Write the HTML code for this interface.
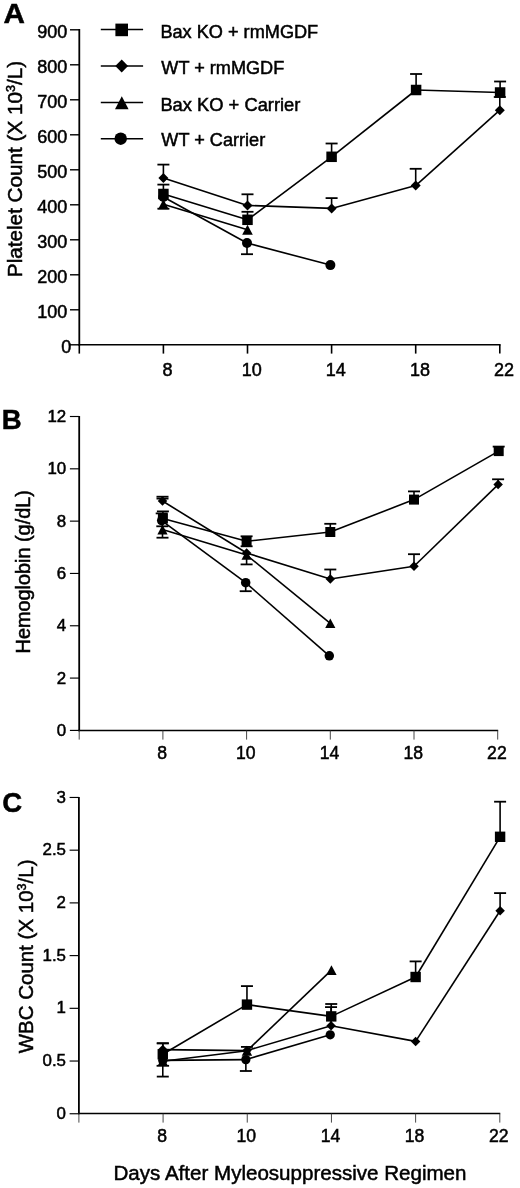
<!DOCTYPE html>
<html><head><meta charset="utf-8"><title>Figure</title>
<style>html,body{margin:0;padding:0;background:#fff;}svg{display:block;position:absolute;left:0;top:0;will-change:transform;-webkit-font-smoothing:antialiased;}</style></head>
<body><svg width="520" height="1188" viewBox="0 0 520 1188">
<rect width="520" height="1188" fill="#fff"/>
<line x1="79.3" y1="29.100000000000012" x2="79.3" y2="345.55" stroke="#000" stroke-width="1.8"/>
<line x1="78.39999999999999" y1="344.8" x2="500.6" y2="344.8" stroke="#000" stroke-width="1.5"/>
<line x1="70.0" y1="344.8" x2="79.3" y2="344.8" stroke="#000" stroke-width="1.4"/>
<text x="71.2" y="352.944" font-size="18" text-anchor="end" font-weight="normal" font-family="Liberation Sans, sans-serif" stroke="#000" stroke-width="0.5">0</text>
<line x1="70.0" y1="309.8" x2="79.3" y2="309.8" stroke="#000" stroke-width="1.4"/>
<text x="67.2" y="317.944" font-size="18" text-anchor="end" font-weight="normal" font-family="Liberation Sans, sans-serif" stroke="#000" stroke-width="0.5">100</text>
<line x1="70.0" y1="274.8" x2="79.3" y2="274.8" stroke="#000" stroke-width="1.4"/>
<text x="67.2" y="282.944" font-size="18" text-anchor="end" font-weight="normal" font-family="Liberation Sans, sans-serif" stroke="#000" stroke-width="0.5">200</text>
<line x1="70.0" y1="239.8" x2="79.3" y2="239.8" stroke="#000" stroke-width="1.4"/>
<text x="67.2" y="247.944" font-size="18" text-anchor="end" font-weight="normal" font-family="Liberation Sans, sans-serif" stroke="#000" stroke-width="0.5">300</text>
<line x1="70.0" y1="204.8" x2="79.3" y2="204.8" stroke="#000" stroke-width="1.4"/>
<text x="67.2" y="212.944" font-size="18" text-anchor="end" font-weight="normal" font-family="Liberation Sans, sans-serif" stroke="#000" stroke-width="0.5">400</text>
<line x1="70.0" y1="169.8" x2="79.3" y2="169.8" stroke="#000" stroke-width="1.4"/>
<text x="67.2" y="177.944" font-size="18" text-anchor="end" font-weight="normal" font-family="Liberation Sans, sans-serif" stroke="#000" stroke-width="0.5">500</text>
<line x1="70.0" y1="134.8" x2="79.3" y2="134.8" stroke="#000" stroke-width="1.4"/>
<text x="67.2" y="142.944" font-size="18" text-anchor="end" font-weight="normal" font-family="Liberation Sans, sans-serif" stroke="#000" stroke-width="0.5">600</text>
<line x1="70.0" y1="99.80000000000004" x2="79.3" y2="99.80000000000004" stroke="#000" stroke-width="1.4"/>
<text x="67.2" y="107.94400000000005" font-size="18" text-anchor="end" font-weight="normal" font-family="Liberation Sans, sans-serif" stroke="#000" stroke-width="0.5">700</text>
<line x1="70.0" y1="64.80000000000001" x2="79.3" y2="64.80000000000001" stroke="#000" stroke-width="1.4"/>
<text x="67.2" y="72.94400000000002" font-size="18" text-anchor="end" font-weight="normal" font-family="Liberation Sans, sans-serif" stroke="#000" stroke-width="0.5">800</text>
<line x1="70.0" y1="29.80000000000001" x2="79.3" y2="29.80000000000001" stroke="#000" stroke-width="1.4"/>
<text x="67.2" y="37.94400000000002" font-size="18" text-anchor="end" font-weight="normal" font-family="Liberation Sans, sans-serif" stroke="#000" stroke-width="0.5">900</text>
<line x1="79.3" y1="344.8" x2="79.3" y2="353.6" stroke="#000" stroke-width="1.6"/>
<line x1="163.39999999999998" y1="344.8" x2="163.39999999999998" y2="353.6" stroke="#000" stroke-width="1.6"/>
<text x="167.59999999999997" y="375.8" font-size="18" text-anchor="middle" font-weight="normal" font-family="Liberation Sans, sans-serif" stroke="#000" stroke-width="0.5">8</text>
<line x1="247.5" y1="344.8" x2="247.5" y2="353.6" stroke="#000" stroke-width="1.6"/>
<text x="251.7" y="375.8" font-size="18" text-anchor="middle" font-weight="normal" font-family="Liberation Sans, sans-serif" stroke="#000" stroke-width="0.5">10</text>
<line x1="331.59999999999997" y1="344.8" x2="331.59999999999997" y2="353.6" stroke="#000" stroke-width="1.6"/>
<text x="335.79999999999995" y="375.8" font-size="18" text-anchor="middle" font-weight="normal" font-family="Liberation Sans, sans-serif" stroke="#000" stroke-width="0.5">14</text>
<line x1="415.7" y1="344.8" x2="415.7" y2="353.6" stroke="#000" stroke-width="1.6"/>
<text x="419.9" y="375.8" font-size="18" text-anchor="middle" font-weight="normal" font-family="Liberation Sans, sans-serif" stroke="#000" stroke-width="0.5">18</text>
<line x1="499.8" y1="344.8" x2="499.8" y2="353.6" stroke="#000" stroke-width="1.6"/>
<text x="504.0" y="375.8" font-size="18" text-anchor="middle" font-weight="normal" font-family="Liberation Sans, sans-serif" stroke="#000" stroke-width="0.5">22</text>
<text x="3.4" y="22.8" font-size="28" text-anchor="start" font-weight="bold" font-family="Liberation Sans, sans-serif" textLength="21.4" lengthAdjust="spacingAndGlyphs" stroke="#000" stroke-width="0.5">A</text>
<line x1="100.8" y1="29.6" x2="143.1" y2="29.6" stroke="#000" stroke-width="1.5"/>
<rect x="115.4" y="23.6" width="12.6" height="12.6" fill="#000"/>
<text x="160.4" y="37.9" font-size="18" text-anchor="start" font-weight="normal" font-family="Liberation Sans, sans-serif" textLength="157.8" lengthAdjust="spacingAndGlyphs" stroke="#000" stroke-width="0.5">Bax KO + rmMGDF</text>
<line x1="100.8" y1="66" x2="143.1" y2="66" stroke="#000" stroke-width="1.5"/>
<polygon points="121.7,59.6 128.1,66 121.7,72.4 115.3,66" fill="#000"/>
<text x="161.3" y="73.9" font-size="18" text-anchor="start" font-weight="normal" font-family="Liberation Sans, sans-serif" textLength="122.9" lengthAdjust="spacingAndGlyphs" stroke="#000" stroke-width="0.5">WT + rmMGDF</text>
<line x1="100.8" y1="102.5" x2="143.1" y2="102.5" stroke="#000" stroke-width="1.5"/>
<polygon points="121.8,96.2 128.60000000000002,109.2 115.0,109.2" fill="#000"/>
<text x="160.4" y="111.0" font-size="18" text-anchor="start" font-weight="normal" font-family="Liberation Sans, sans-serif" textLength="140.0" lengthAdjust="spacingAndGlyphs" stroke="#000" stroke-width="0.5">Bax KO + Carrier</text>
<line x1="100.8" y1="138.7" x2="143.1" y2="138.7" stroke="#000" stroke-width="1.5"/>
<circle cx="120.7" cy="138.7" r="6.25" fill="#000"/>
<text x="161.3" y="145.7" font-size="18" text-anchor="start" font-weight="normal" font-family="Liberation Sans, sans-serif" textLength="103.9" lengthAdjust="spacingAndGlyphs" stroke="#000" stroke-width="0.5">WT + Carrier</text>
<text transform="translate(22,169) rotate(-90)" stroke="#000" stroke-width="0.5" font-size="20.7" text-anchor="middle" font-family="Liberation Sans, sans-serif">Platelet Count (X 10<tspan font-size="12.5" dy="-7">3</tspan><tspan dy="7">/L)</tspan></text>
<line x1="163.39999999999998" y1="197" x2="247.0" y2="243" stroke="#000" stroke-width="1.6"/>
<line x1="247.0" y1="243" x2="330.4" y2="265.1" stroke="#000" stroke-width="1.6"/>
<line x1="247.0" y1="243" x2="247.0" y2="254.2" stroke="#000" stroke-width="1.6"/>
<line x1="241.0" y1="254.2" x2="253.0" y2="254.2" stroke="#000" stroke-width="1.8"/>
<circle cx="163.39999999999998" cy="197" r="5.0" fill="#000"/>
<circle cx="247.0" cy="243" r="5.0" fill="#000"/>
<circle cx="330.4" cy="265.1" r="5.0" fill="#000"/>
<line x1="163.39999999999998" y1="204.2" x2="247.5" y2="229.8" stroke="#000" stroke-width="1.6"/>
<line x1="163.39999999999998" y1="204.2" x2="163.39999999999998" y2="208.7" stroke="#000" stroke-width="1.6"/>
<line x1="157.39999999999998" y1="208.7" x2="169.39999999999998" y2="208.7" stroke="#000" stroke-width="1.8"/>
<polygon points="163.39999999999998,199.2 168.7,209.2 158.09999999999997,209.2" fill="#000"/>
<polygon points="247.5,224.8 252.8,234.8 242.2,234.8" fill="#000"/>
<line x1="163.39999999999998" y1="178" x2="247.5" y2="205.4" stroke="#000" stroke-width="1.6"/>
<line x1="247.5" y1="205.4" x2="331.59999999999997" y2="208.4" stroke="#000" stroke-width="1.6"/>
<line x1="331.59999999999997" y1="208.4" x2="415.7" y2="185.6" stroke="#000" stroke-width="1.6"/>
<line x1="415.7" y1="185.6" x2="499.8" y2="110.2" stroke="#000" stroke-width="1.6"/>
<line x1="163.39999999999998" y1="178" x2="163.39999999999998" y2="164.6" stroke="#000" stroke-width="1.6"/>
<line x1="157.39999999999998" y1="164.6" x2="169.39999999999998" y2="164.6" stroke="#000" stroke-width="1.8"/>
<line x1="247.5" y1="205.4" x2="247.5" y2="194.3" stroke="#000" stroke-width="1.6"/>
<line x1="241.5" y1="194.3" x2="253.5" y2="194.3" stroke="#000" stroke-width="1.8"/>
<line x1="331.59999999999997" y1="208.4" x2="331.59999999999997" y2="198.1" stroke="#000" stroke-width="1.6"/>
<line x1="325.59999999999997" y1="198.1" x2="337.59999999999997" y2="198.1" stroke="#000" stroke-width="1.8"/>
<line x1="415.7" y1="185.6" x2="415.7" y2="168.8" stroke="#000" stroke-width="1.6"/>
<line x1="409.7" y1="168.8" x2="421.7" y2="168.8" stroke="#000" stroke-width="1.8"/>
<line x1="499.8" y1="110.2" x2="499.8" y2="97" stroke="#000" stroke-width="1.6"/>
<line x1="493.8" y1="97" x2="505.8" y2="97" stroke="#000" stroke-width="1.8"/>
<polygon points="163.39999999999998,173.0 168.39999999999998,178 163.39999999999998,183.0 158.39999999999998,178" fill="#000"/>
<polygon points="247.5,200.4 252.5,205.4 247.5,210.4 242.5,205.4" fill="#000"/>
<polygon points="331.59999999999997,203.4 336.59999999999997,208.4 331.59999999999997,213.4 326.59999999999997,208.4" fill="#000"/>
<polygon points="415.7,180.6 420.7,185.6 415.7,190.6 410.7,185.6" fill="#000"/>
<polygon points="499.8,105.2 504.8,110.2 499.8,115.2 494.8,110.2" fill="#000"/>
<line x1="163.39999999999998" y1="194" x2="247.5" y2="219.8" stroke="#000" stroke-width="1.6"/>
<line x1="247.5" y1="219.8" x2="331.59999999999997" y2="156.8" stroke="#000" stroke-width="1.6"/>
<line x1="331.59999999999997" y1="156.8" x2="416.09999999999997" y2="90" stroke="#000" stroke-width="1.6"/>
<line x1="416.09999999999997" y1="90" x2="500.1" y2="92.5" stroke="#000" stroke-width="1.6"/>
<line x1="163.39999999999998" y1="194" x2="163.39999999999998" y2="184.6" stroke="#000" stroke-width="1.6"/>
<line x1="157.39999999999998" y1="184.6" x2="169.39999999999998" y2="184.6" stroke="#000" stroke-width="1.8"/>
<line x1="247.5" y1="219.8" x2="247.5" y2="211.8" stroke="#000" stroke-width="1.6"/>
<line x1="241.5" y1="211.8" x2="253.5" y2="211.8" stroke="#000" stroke-width="1.8"/>
<line x1="331.59999999999997" y1="156.8" x2="331.59999999999997" y2="143.5" stroke="#000" stroke-width="1.6"/>
<line x1="325.59999999999997" y1="143.5" x2="337.59999999999997" y2="143.5" stroke="#000" stroke-width="1.8"/>
<line x1="416.09999999999997" y1="90" x2="416.09999999999997" y2="74" stroke="#000" stroke-width="1.6"/>
<line x1="410.09999999999997" y1="74" x2="422.09999999999997" y2="74" stroke="#000" stroke-width="1.8"/>
<line x1="500.1" y1="92.5" x2="500.1" y2="81.5" stroke="#000" stroke-width="1.6"/>
<line x1="494.1" y1="81.5" x2="506.1" y2="81.5" stroke="#000" stroke-width="1.8"/>
<rect x="158.14999999999998" y="188.75" width="10.5" height="10.5" fill="#000"/>
<rect x="242.25" y="214.55" width="10.5" height="10.5" fill="#000"/>
<rect x="326.34999999999997" y="151.55" width="10.5" height="10.5" fill="#000"/>
<rect x="410.84999999999997" y="84.75" width="10.5" height="10.5" fill="#000"/>
<rect x="494.85" y="87.25" width="10.5" height="10.5" fill="#000"/>
<line x1="79.2" y1="415.929" x2="79.2" y2="731.15" stroke="#000" stroke-width="1.8"/>
<line x1="78.3" y1="730.4" x2="498.15" y2="730.4" stroke="#000" stroke-width="1.5"/>
<line x1="69.9" y1="730.4" x2="79.2" y2="730.4" stroke="#000" stroke-width="1.15"/>
<text x="66.2" y="735.9502" font-size="16.9" text-anchor="end" font-weight="normal" font-family="Liberation Sans, sans-serif" stroke="#000" stroke-width="0.5">0</text>
<line x1="69.9" y1="678.084" x2="79.2" y2="678.084" stroke="#000" stroke-width="1.15"/>
<text x="66.2" y="683.6342" font-size="16.9" text-anchor="end" font-weight="normal" font-family="Liberation Sans, sans-serif" stroke="#000" stroke-width="0.5">2</text>
<line x1="69.9" y1="625.768" x2="79.2" y2="625.768" stroke="#000" stroke-width="1.15"/>
<text x="66.2" y="631.3182" font-size="16.9" text-anchor="end" font-weight="normal" font-family="Liberation Sans, sans-serif" stroke="#000" stroke-width="0.5">4</text>
<line x1="69.9" y1="573.452" x2="79.2" y2="573.452" stroke="#000" stroke-width="1.15"/>
<text x="66.2" y="579.0022" font-size="16.9" text-anchor="end" font-weight="normal" font-family="Liberation Sans, sans-serif" stroke="#000" stroke-width="0.5">6</text>
<line x1="69.9" y1="521.136" x2="79.2" y2="521.136" stroke="#000" stroke-width="1.15"/>
<text x="66.2" y="526.6862" font-size="16.9" text-anchor="end" font-weight="normal" font-family="Liberation Sans, sans-serif" stroke="#000" stroke-width="0.5">8</text>
<line x1="69.9" y1="468.81999999999994" x2="79.2" y2="468.81999999999994" stroke="#000" stroke-width="1.15"/>
<text x="66.2" y="474.37019999999995" font-size="16.9" text-anchor="end" font-weight="normal" font-family="Liberation Sans, sans-serif" stroke="#000" stroke-width="0.5">10</text>
<line x1="69.9" y1="416.50399999999996" x2="79.2" y2="416.50399999999996" stroke="#000" stroke-width="1.15"/>
<text x="66.2" y="422.0542" font-size="16.9" text-anchor="end" font-weight="normal" font-family="Liberation Sans, sans-serif" stroke="#000" stroke-width="0.5">12</text>
<line x1="79.2" y1="730.4" x2="79.2" y2="739.6" stroke="#333" stroke-width="0.9"/>
<line x1="162.9" y1="730.4" x2="162.9" y2="739.6" stroke="#333" stroke-width="0.9"/>
<text x="162.1" y="758.8" font-size="17.6" text-anchor="middle" font-weight="normal" font-family="Liberation Sans, sans-serif" stroke="#000" stroke-width="0.5">8</text>
<line x1="246.60000000000002" y1="730.4" x2="246.60000000000002" y2="739.6" stroke="#333" stroke-width="0.9"/>
<text x="245.8" y="758.8" font-size="17.6" text-anchor="middle" font-weight="normal" font-family="Liberation Sans, sans-serif" stroke="#000" stroke-width="0.5">10</text>
<line x1="330.3" y1="730.4" x2="330.3" y2="739.6" stroke="#333" stroke-width="0.9"/>
<text x="329.5" y="758.8" font-size="17.6" text-anchor="middle" font-weight="normal" font-family="Liberation Sans, sans-serif" stroke="#000" stroke-width="0.5">14</text>
<line x1="414.0" y1="730.4" x2="414.0" y2="739.6" stroke="#333" stroke-width="0.9"/>
<text x="413.2" y="758.8" font-size="17.6" text-anchor="middle" font-weight="normal" font-family="Liberation Sans, sans-serif" stroke="#000" stroke-width="0.5">18</text>
<line x1="497.7" y1="730.4" x2="497.7" y2="739.6" stroke="#333" stroke-width="0.9"/>
<text x="496.9" y="758.8" font-size="17.6" text-anchor="middle" font-weight="normal" font-family="Liberation Sans, sans-serif" stroke="#000" stroke-width="0.5">22</text>
<text x="1.8" y="429" font-size="27.5" text-anchor="start" font-weight="bold" font-family="Liberation Sans, sans-serif" stroke="#000" stroke-width="0.5">B</text>
<text transform="translate(30.2,571.8) rotate(-90)" stroke="#000" stroke-width="0.5" font-size="19.85" text-anchor="middle" font-family="Liberation Sans, sans-serif">Hemoglobin (g/dL)</text>
<line x1="161.70000000000002" y1="520.6" x2="245.70000000000002" y2="582.7" stroke="#000" stroke-width="1.6"/>
<line x1="245.70000000000002" y1="582.7" x2="329.3" y2="655.8" stroke="#000" stroke-width="1.6"/>
<line x1="161.70000000000002" y1="520.6" x2="161.70000000000002" y2="513.4" stroke="#000" stroke-width="1.6"/>
<line x1="155.70000000000002" y1="513.4" x2="167.70000000000002" y2="513.4" stroke="#000" stroke-width="1.8"/>
<line x1="245.70000000000002" y1="582.7" x2="245.70000000000002" y2="591.2" stroke="#000" stroke-width="1.6"/>
<line x1="239.70000000000002" y1="591.2" x2="251.70000000000002" y2="591.2" stroke="#000" stroke-width="1.8"/>
<circle cx="161.70000000000002" cy="520.6" r="4.75" fill="#000"/>
<circle cx="245.70000000000002" cy="582.7" r="4.75" fill="#000"/>
<circle cx="329.3" cy="655.8" r="4.75" fill="#000"/>
<line x1="162.3" y1="520.6" x2="162.3" y2="526.3" stroke="#000" stroke-width="1.6"/>
<line x1="156.3" y1="526.3" x2="168.3" y2="526.3" stroke="#000" stroke-width="1.8"/>
<line x1="162.5" y1="529.6" x2="246.60000000000002" y2="555" stroke="#000" stroke-width="1.6"/>
<line x1="246.60000000000002" y1="555" x2="330.3" y2="623.3" stroke="#000" stroke-width="1.6"/>
<line x1="162.5" y1="529.6" x2="162.5" y2="537.7" stroke="#000" stroke-width="1.6"/>
<line x1="156.5" y1="537.7" x2="168.5" y2="537.7" stroke="#000" stroke-width="1.8"/>
<line x1="246.60000000000002" y1="555" x2="246.60000000000002" y2="564.4" stroke="#000" stroke-width="1.6"/>
<line x1="240.60000000000002" y1="564.4" x2="252.60000000000002" y2="564.4" stroke="#000" stroke-width="1.8"/>
<polygon points="162.5,524.8000000000001 167.60000000000002,534.4 157.39999999999998,534.4" fill="#000"/>
<polygon points="246.60000000000002,550.2 251.70000000000005,559.8 241.5,559.8" fill="#000"/>
<polygon points="330.3,618.5 335.40000000000003,628.0999999999999 325.2,628.0999999999999" fill="#000"/>
<line x1="162.5" y1="501" x2="246.60000000000002" y2="553" stroke="#000" stroke-width="1.6"/>
<line x1="246.60000000000002" y1="553" x2="330.3" y2="579" stroke="#000" stroke-width="1.6"/>
<line x1="330.3" y1="579" x2="414.0" y2="566.2" stroke="#000" stroke-width="1.6"/>
<line x1="414.0" y1="566.2" x2="498.09999999999997" y2="484.6" stroke="#000" stroke-width="1.6"/>
<line x1="162.5" y1="501" x2="162.5" y2="496.7" stroke="#000" stroke-width="1.6"/>
<line x1="156.5" y1="496.7" x2="168.5" y2="496.7" stroke="#000" stroke-width="1.8"/>
<line x1="330.3" y1="579" x2="330.3" y2="569.5" stroke="#000" stroke-width="1.6"/>
<line x1="324.3" y1="569.5" x2="336.3" y2="569.5" stroke="#000" stroke-width="1.8"/>
<line x1="414.0" y1="566.2" x2="414.0" y2="554.2" stroke="#000" stroke-width="1.6"/>
<line x1="408.0" y1="554.2" x2="420.0" y2="554.2" stroke="#000" stroke-width="1.8"/>
<line x1="498.09999999999997" y1="484.6" x2="498.09999999999997" y2="479.3" stroke="#000" stroke-width="1.6"/>
<line x1="492.09999999999997" y1="479.3" x2="504.09999999999997" y2="479.3" stroke="#000" stroke-width="1.8"/>
<polygon points="162.5,496.25 167.25,501 162.5,505.75 157.75,501" fill="#000"/>
<polygon points="246.60000000000002,548.25 251.35000000000002,553 246.60000000000002,557.75 241.85000000000002,553" fill="#000"/>
<polygon points="330.3,574.25 335.05,579 330.3,583.75 325.55,579" fill="#000"/>
<polygon points="414.0,561.45 418.75,566.2 414.0,570.95 409.25,566.2" fill="#000"/>
<polygon points="498.09999999999997,479.85 502.84999999999997,484.6 498.09999999999997,489.35 493.34999999999997,484.6" fill="#000"/>
<line x1="162.5" y1="501" x2="162.5" y2="498.6" stroke="#000" stroke-width="1.6"/>
<line x1="156.5" y1="498.6" x2="168.5" y2="498.6" stroke="#000" stroke-width="1.8"/>
<line x1="162.9" y1="518.6" x2="246.60000000000002" y2="541.3" stroke="#000" stroke-width="1.6"/>
<line x1="246.60000000000002" y1="541.3" x2="330.3" y2="532" stroke="#000" stroke-width="1.6"/>
<line x1="330.3" y1="532" x2="414.0" y2="499.6" stroke="#000" stroke-width="1.6"/>
<line x1="414.0" y1="499.6" x2="498.7" y2="451.1" stroke="#000" stroke-width="1.6"/>
<line x1="162.9" y1="518.6" x2="162.9" y2="511.4" stroke="#000" stroke-width="1.6"/>
<line x1="156.9" y1="511.4" x2="168.9" y2="511.4" stroke="#000" stroke-width="1.8"/>
<line x1="246.60000000000002" y1="541.3" x2="246.60000000000002" y2="536.3" stroke="#000" stroke-width="1.6"/>
<line x1="240.60000000000002" y1="536.3" x2="252.60000000000002" y2="536.3" stroke="#000" stroke-width="1.8"/>
<line x1="330.3" y1="532" x2="330.3" y2="523.8" stroke="#000" stroke-width="1.6"/>
<line x1="324.3" y1="523.8" x2="336.3" y2="523.8" stroke="#000" stroke-width="1.8"/>
<line x1="414.0" y1="499.6" x2="414.0" y2="491.4" stroke="#000" stroke-width="1.6"/>
<line x1="408.0" y1="491.4" x2="420.0" y2="491.4" stroke="#000" stroke-width="1.8"/>
<line x1="498.7" y1="451.1" x2="498.7" y2="446.6" stroke="#000" stroke-width="1.6"/>
<line x1="492.7" y1="446.6" x2="504.7" y2="446.6" stroke="#000" stroke-width="1.8"/>
<rect x="157.9" y="513.6" width="10" height="10" fill="#000"/>
<rect x="241.60000000000002" y="536.3" width="10" height="10" fill="#000"/>
<rect x="325.3" y="527.0" width="10" height="10" fill="#000"/>
<rect x="409.0" y="494.6" width="10" height="10" fill="#000"/>
<rect x="493.7" y="446.1" width="10" height="10" fill="#000"/>
<line x1="246.60000000000002" y1="541.3" x2="246.60000000000002" y2="546.3" stroke="#000" stroke-width="1.6"/>
<line x1="240.60000000000002" y1="546.3" x2="252.60000000000002" y2="546.3" stroke="#000" stroke-width="1.8"/>
<line x1="78.9" y1="796.885" x2="78.9" y2="1114.35" stroke="#000" stroke-width="1.8"/>
<line x1="78.0" y1="1113.6" x2="500.25000000000006" y2="1113.6" stroke="#000" stroke-width="1.5"/>
<line x1="69.60000000000001" y1="1113.75" x2="78.9" y2="1113.75" stroke="#000" stroke-width="1.15"/>
<text x="66.0" y="1118.8002" font-size="16.9" text-anchor="end" font-weight="normal" font-family="Liberation Sans, sans-serif" stroke="#000" stroke-width="0.5">0</text>
<line x1="69.60000000000001" y1="1061.035" x2="78.9" y2="1061.035" stroke="#000" stroke-width="1.15"/>
<text x="66.0" y="1066.0852" font-size="16.9" text-anchor="end" font-weight="normal" font-family="Liberation Sans, sans-serif" stroke="#000" stroke-width="0.5">0.5</text>
<line x1="69.60000000000001" y1="1008.3199999999999" x2="78.9" y2="1008.3199999999999" stroke="#000" stroke-width="1.15"/>
<text x="66.0" y="1013.3702" font-size="16.9" text-anchor="end" font-weight="normal" font-family="Liberation Sans, sans-serif" stroke="#000" stroke-width="0.5">1</text>
<line x1="69.60000000000001" y1="955.605" x2="78.9" y2="955.605" stroke="#000" stroke-width="1.15"/>
<text x="66.0" y="960.6552" font-size="16.9" text-anchor="end" font-weight="normal" font-family="Liberation Sans, sans-serif" stroke="#000" stroke-width="0.5">1.5</text>
<line x1="69.60000000000001" y1="902.89" x2="78.9" y2="902.89" stroke="#000" stroke-width="1.15"/>
<text x="66.0" y="907.9402" font-size="16.9" text-anchor="end" font-weight="normal" font-family="Liberation Sans, sans-serif" stroke="#000" stroke-width="0.5">2</text>
<line x1="69.60000000000001" y1="850.175" x2="78.9" y2="850.175" stroke="#000" stroke-width="1.15"/>
<text x="66.0" y="855.2252" font-size="16.9" text-anchor="end" font-weight="normal" font-family="Liberation Sans, sans-serif" stroke="#000" stroke-width="0.5">2.5</text>
<line x1="69.60000000000001" y1="797.46" x2="78.9" y2="797.46" stroke="#000" stroke-width="1.15"/>
<text x="66.0" y="802.5102" font-size="16.9" text-anchor="end" font-weight="normal" font-family="Liberation Sans, sans-serif" stroke="#000" stroke-width="0.5">3</text>
<line x1="78.9" y1="1113.6" x2="78.9" y2="1122.6" stroke="#333" stroke-width="0.9"/>
<line x1="163.08" y1="1113.6" x2="163.08" y2="1122.6" stroke="#333" stroke-width="0.9"/>
<text x="162.08" y="1141.9" font-size="17.6" text-anchor="middle" font-weight="normal" font-family="Liberation Sans, sans-serif" stroke="#000" stroke-width="0.5">8</text>
<line x1="247.26000000000002" y1="1113.6" x2="247.26000000000002" y2="1122.6" stroke="#333" stroke-width="0.9"/>
<text x="246.26000000000002" y="1141.9" font-size="17.6" text-anchor="middle" font-weight="normal" font-family="Liberation Sans, sans-serif" stroke="#000" stroke-width="0.5">10</text>
<line x1="331.44000000000005" y1="1113.6" x2="331.44000000000005" y2="1122.6" stroke="#333" stroke-width="0.9"/>
<text x="330.44000000000005" y="1141.9" font-size="17.6" text-anchor="middle" font-weight="normal" font-family="Liberation Sans, sans-serif" stroke="#000" stroke-width="0.5">14</text>
<line x1="415.62" y1="1113.6" x2="415.62" y2="1122.6" stroke="#333" stroke-width="0.9"/>
<text x="414.62" y="1141.9" font-size="17.6" text-anchor="middle" font-weight="normal" font-family="Liberation Sans, sans-serif" stroke="#000" stroke-width="0.5">18</text>
<line x1="499.80000000000007" y1="1113.6" x2="499.80000000000007" y2="1122.6" stroke="#333" stroke-width="0.9"/>
<text x="498.80000000000007" y="1141.9" font-size="17.6" text-anchor="middle" font-weight="normal" font-family="Liberation Sans, sans-serif" stroke="#000" stroke-width="0.5">22</text>
<text x="2.2" y="811.7" font-size="27.5" text-anchor="start" font-weight="bold" font-family="Liberation Sans, sans-serif" stroke="#000" stroke-width="0.5">C</text>
<text transform="translate(32.9,956.4) rotate(-90)" stroke="#000" stroke-width="0.5" font-size="20.5" text-anchor="middle" font-family="Liberation Sans, sans-serif">WBC Count (X 10<tspan font-size="12.5" dy="-7">3</tspan><tspan dy="7">/L)</tspan></text>
<line x1="162.78" y1="1060.4" x2="245.86" y2="1059.6" stroke="#000" stroke-width="1.6"/>
<line x1="245.86" y1="1059.6" x2="330.24000000000007" y2="1034.8" stroke="#000" stroke-width="1.6"/>
<line x1="162.78" y1="1060.4" x2="162.78" y2="1076.6" stroke="#000" stroke-width="1.6"/>
<line x1="156.78" y1="1076.6" x2="168.78" y2="1076.6" stroke="#000" stroke-width="1.8"/>
<line x1="245.86" y1="1059.6" x2="245.86" y2="1071" stroke="#000" stroke-width="1.6"/>
<line x1="239.86" y1="1071" x2="251.86" y2="1071" stroke="#000" stroke-width="1.8"/>
<circle cx="162.78" cy="1060.4" r="4.65" fill="#000"/>
<circle cx="245.86" cy="1059.6" r="4.65" fill="#000"/>
<circle cx="330.24000000000007" cy="1034.8" r="4.65" fill="#000"/>
<line x1="162.78" y1="1061.2" x2="246.96" y2="1050.8" stroke="#000" stroke-width="1.6"/>
<line x1="246.96" y1="1050.8" x2="331.44000000000005" y2="970.2" stroke="#000" stroke-width="1.6"/>
<polygon points="162.78,1056.3 167.98000000000002,1066.1000000000001 157.57999999999998,1066.1000000000001" fill="#000"/>
<polygon points="246.96,1045.8999999999999 252.16000000000003,1055.7 241.76,1055.7" fill="#000"/>
<polygon points="331.44000000000005,965.3000000000001 336.64000000000004,975.1 326.24000000000007,975.1" fill="#000"/>
<line x1="156.58" y1="1065.8" x2="169.08" y2="1065.8" stroke="#000" stroke-width="1.8"/>
<line x1="162.78" y1="1049.6" x2="246.96" y2="1050.6" stroke="#000" stroke-width="1.6"/>
<line x1="246.96" y1="1050.6" x2="331.0400000000001" y2="1025.8" stroke="#000" stroke-width="1.6"/>
<line x1="331.0400000000001" y1="1025.8" x2="415.62" y2="1041.4" stroke="#000" stroke-width="1.6"/>
<line x1="415.62" y1="1041.4" x2="500.1000000000001" y2="910.8" stroke="#000" stroke-width="1.6"/>
<line x1="162.78" y1="1049.6" x2="162.78" y2="1043.3" stroke="#000" stroke-width="1.6"/>
<line x1="156.78" y1="1043.3" x2="168.78" y2="1043.3" stroke="#000" stroke-width="1.8"/>
<line x1="246.96" y1="1050.6" x2="246.96" y2="1046.9" stroke="#000" stroke-width="1.6"/>
<line x1="240.96" y1="1046.9" x2="252.96" y2="1046.9" stroke="#000" stroke-width="1.8"/>
<line x1="331.0400000000001" y1="1025.8" x2="331.0400000000001" y2="1007.1" stroke="#000" stroke-width="1.6"/>
<line x1="325.0400000000001" y1="1007.1" x2="337.0400000000001" y2="1007.1" stroke="#000" stroke-width="1.8"/>
<line x1="500.1000000000001" y1="910.8" x2="500.1000000000001" y2="893.1" stroke="#000" stroke-width="1.6"/>
<line x1="494.1000000000001" y1="893.1" x2="506.1000000000001" y2="893.1" stroke="#000" stroke-width="1.8"/>
<polygon points="162.78,1044.85 167.53,1049.6 162.78,1054.35 158.03,1049.6" fill="#000"/>
<polygon points="246.96,1045.85 251.71,1050.6 246.96,1055.35 242.21,1050.6" fill="#000"/>
<polygon points="331.0400000000001,1021.05 335.7900000000001,1025.8 331.0400000000001,1030.55 326.2900000000001,1025.8" fill="#000"/>
<polygon points="415.62,1036.65 420.37,1041.4 415.62,1046.15 410.87,1041.4" fill="#000"/>
<polygon points="500.1000000000001,906.05 504.8500000000001,910.8 500.1000000000001,915.55 495.3500000000001,910.8" fill="#000"/>
<line x1="162.78" y1="1054.3" x2="246.96" y2="1004.6" stroke="#000" stroke-width="1.6"/>
<line x1="246.96" y1="1004.6" x2="331.24000000000007" y2="1016.4" stroke="#000" stroke-width="1.6"/>
<line x1="331.24000000000007" y1="1016.4" x2="415.62" y2="977" stroke="#000" stroke-width="1.6"/>
<line x1="415.62" y1="977" x2="500.1000000000001" y2="836.8" stroke="#000" stroke-width="1.6"/>
<line x1="162.78" y1="1054.3" x2="162.78" y2="1043.3" stroke="#000" stroke-width="1.6"/>
<line x1="156.78" y1="1043.3" x2="168.78" y2="1043.3" stroke="#000" stroke-width="1.8"/>
<line x1="246.96" y1="1004.6" x2="246.96" y2="986.1" stroke="#000" stroke-width="1.6"/>
<line x1="240.96" y1="986.1" x2="252.96" y2="986.1" stroke="#000" stroke-width="1.8"/>
<line x1="331.24000000000007" y1="1016.4" x2="331.24000000000007" y2="1004" stroke="#000" stroke-width="1.6"/>
<line x1="325.24000000000007" y1="1004" x2="337.24000000000007" y2="1004" stroke="#000" stroke-width="1.8"/>
<line x1="415.62" y1="977" x2="415.62" y2="961.4" stroke="#000" stroke-width="1.6"/>
<line x1="409.62" y1="961.4" x2="421.62" y2="961.4" stroke="#000" stroke-width="1.8"/>
<line x1="500.1000000000001" y1="836.8" x2="500.1000000000001" y2="801.7" stroke="#000" stroke-width="1.6"/>
<line x1="494.1000000000001" y1="801.7" x2="506.1000000000001" y2="801.7" stroke="#000" stroke-width="1.8"/>
<rect x="157.58" y="1049.1" width="10.4" height="10.4" fill="#000"/>
<rect x="241.76000000000002" y="999.4" width="10.4" height="10.4" fill="#000"/>
<rect x="326.0400000000001" y="1011.1999999999999" width="10.4" height="10.4" fill="#000"/>
<rect x="410.42" y="971.8" width="10.4" height="10.4" fill="#000"/>
<rect x="494.9000000000001" y="831.5999999999999" width="10.4" height="10.4" fill="#000"/>
<text x="290" y="1180" font-size="20.5" text-anchor="middle" font-weight="normal" font-family="Liberation Sans, sans-serif" textLength="353" lengthAdjust="spacingAndGlyphs" stroke="#000" stroke-width="0.5">Days After Myleosuppressive Regimen</text>
</svg></body></html>
